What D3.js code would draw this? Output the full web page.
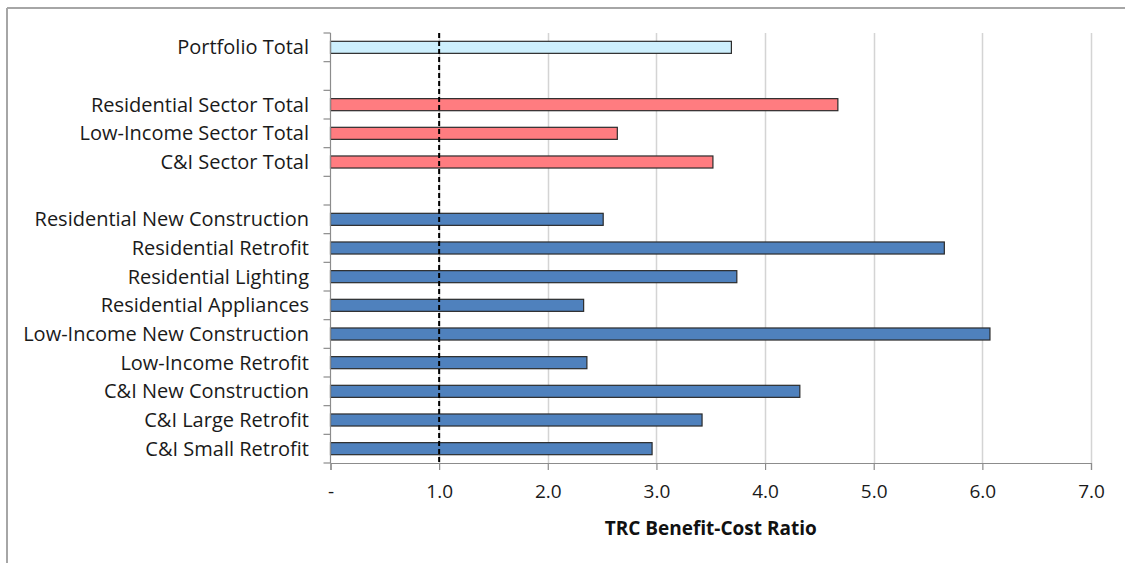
<!DOCTYPE html>
<html>
<head>
<meta charset="utf-8">
<script src="https://cdn.jsdelivr.net/npm/d3@7"></script>
<style>
  html, body { margin: 0; padding: 0; background: #fff; }
  svg { display: block; }
</style>
</head>
<body>
<svg id="chart" width="1125" height="563"></svg>
<script>
// ---- data ----
const categories = [
  "Portfolio Total", "", "Residential Sector Total", "Low-Income Sector Total", "C&I Sector Total", " ",
  "Residential New Construction", "Residential Retrofit", "Residential Lighting", "Residential Appliances",
  "Low-Income New Construction", "Low-Income Retrofit", "C&I New Construction", "C&I Large Retrofit", "C&I Small Retrofit"
];
const values = [3.69, null, 4.67, 2.64, 3.52, null, 2.51, 5.65, 3.74, 2.33, 6.07, 2.36, 4.32, 3.42, 2.96];
const groups = ["portfolio", null, "sector", "sector", "sector", null,
  "program", "program", "program", "program", "program", "program", "program", "program", "program"];
const xTicks = [0, 1, 2, 3, 4, 5, 6, 7];
const xTickLabels = ["-", "1.0", "2.0", "3.0", "4.0", "5.0", "6.0", "7.0"];
const referenceLine = 1.0;
const axisTitle = "TRC Benefit-Cost Ratio";

const colors = { portfolio: "#CDEFFD", sector: "#FF7C80", program: "#4F81BD" };

const svg = d3.select("#chart");
const font = "'Open Sans', 'Noto Sans', sans-serif";

// outer frame
svg.append("line").attr("x1", 7).attr("x2", 1125).attr("y1", 8).attr("y2", 8)
  .attr("stroke", "#a6a6a6").attr("stroke-width", 2);
svg.append("line").attr("x1", 7).attr("x2", 7).attr("y1", 8).attr("y2", 563)
  .attr("stroke", "#a6a6a6").attr("stroke-width", 2);

const pLeft = 330.5, pRight = 1091, pTop = 33, pBottom = 463;

const x = d3.scaleLinear().domain([0, 7]).range([pLeft, pRight]);
const y = d3.scaleBand().domain(categories).range([pTop, pBottom]).paddingInner(0.58).paddingOuter(0.29);
const yb = d3.scaleBand().domain(categories).range([pTop, pBottom]);

// gridlines
svg.append("g").selectAll("line").data(xTicks.filter(d => d > 0)).join("line")
  .attr("x1", d => Math.round(x(d)) + 0.5).attr("x2", d => Math.round(x(d)) + 0.5)
  .attr("y1", pTop).attr("y2", pBottom)
  .attr("stroke", "#d4d4d4").attr("stroke-width", 1.5);

// bars
const idx = categories.map((c, i) => i).filter(i => values[i] !== null);
svg.append("g").selectAll("rect").data(idx).join("rect")
  .attr("x", x(0))
  .attr("y", i => y(categories[i]))
  .attr("width", i => x(values[i]) - x(0))
  .attr("height", y.bandwidth())
  .attr("fill", i => colors[groups[i]])
  .attr("stroke", "#2b2b2b").attr("stroke-width", 1.2);

// reference dashed line
svg.append("line")
  .attr("x1", x(referenceLine)).attr("x2", x(referenceLine))
  .attr("y1", pTop).attr("y2", pBottom)
  .attr("stroke", "#000").attr("stroke-width", 2).attr("stroke-dasharray", "5,3");

// y axis (band boundaries as ticks)
const yAxisG = svg.append("g");
yAxisG.append("line").attr("x1", pLeft).attr("x2", pLeft).attr("y1", pTop).attr("y2", pBottom)
  .attr("stroke", "#8c8c8c").attr("stroke-width", 1.2);
const bounds = categories.map(c => yb(c)).concat([pBottom]);
yAxisG.selectAll("line.tk").data(bounds).join("line").attr("class", "tk")
  .attr("x1", pLeft - 7).attr("x2", pLeft).attr("y1", d => d).attr("y2", d => d)
  .attr("stroke", "#8c8c8c").attr("stroke-width", 1.2);
yAxisG.selectAll("text").data(categories).join("text")
  .attr("x", 309).attr("y", d => yb(d) + yb.bandwidth() / 2)
  .attr("dy", "0.35em").attr("text-anchor", "end")
  .attr("font-family", font).attr("font-size", 20).attr("fill", "#1a1a1a")
  .text(d => d.trim());

// x axis
const xAxis = d3.axisBottom(x).tickValues(xTicks).tickFormat((d, i) => xTickLabels[i]).tickSizeOuter(0).tickSize(7).tickPadding(15);
const xg = svg.append("g").attr("transform", `translate(0,${pBottom})`).call(xAxis);
xg.select(".domain").attr("stroke", "#8c8c8c").attr("stroke-width", 1.2);
xg.selectAll(".tick line").attr("stroke", "#8c8c8c").attr("stroke-width", 1.2);
xg.selectAll(".tick text").attr("font-family", font).attr("font-size", 19).attr("fill", "#1a1a1a");

svg.append("text").attr("x", (pLeft + pRight) / 2).attr("y", 535)
  .attr("text-anchor", "middle").attr("font-family", font).attr("font-weight", "bold")
  .attr("font-size", 19).attr("fill", "#111").text(axisTitle);
</script>
</body>
</html>
